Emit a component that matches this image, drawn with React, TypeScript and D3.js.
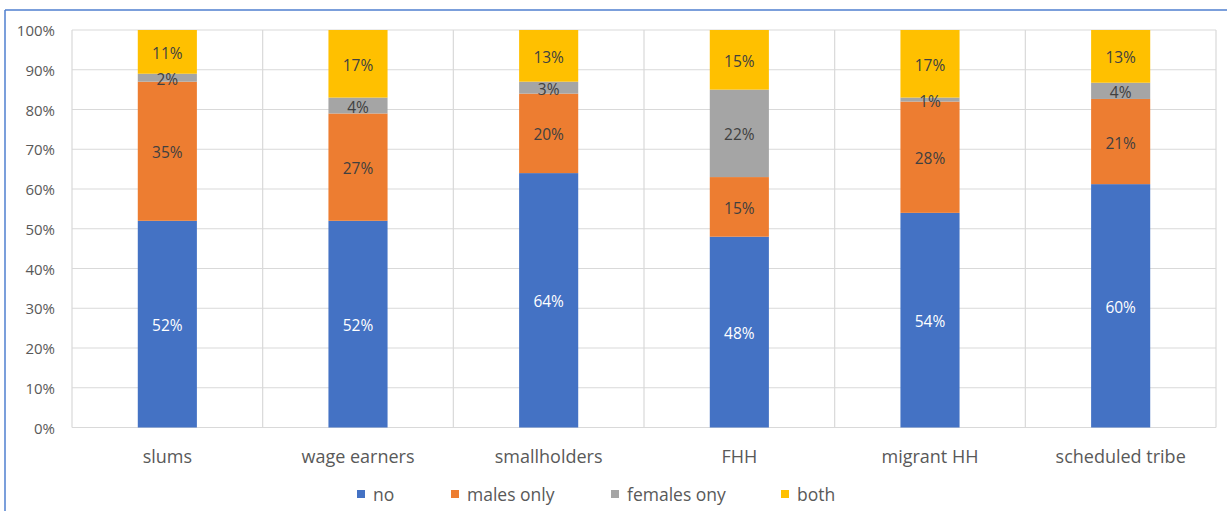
import React from "react";
import * as d3 from "d3";

const categories = ["slums", "wage earners", "smallholders", "FHH", "migrant HH", "scheduled tribe"];
const seriesNames = ["no", "males only", "females ony", "both"];
const noValues = [52, 52, 64, 48, 54, 60];
const malesOnly = [35, 27, 20, 15, 28, 21];
const femalesOnly = [2, 4, 3, 22, 1, 4];
const bothValues = [11, 17, 13, 15, 17, 13];
const yTicks = [0, 0.1, 0.2, 0.3, 0.4, 0.5, 0.6, 0.7, 0.8, 0.9, 1];

const colors = ["#4472C4", "#ED7D31", "#A5A5A5", "#FFC000"];
const labelColors = ["#ffffff", "#404040", "#404040", "#404040"];

const W = 1227;
const H = 511;
const left = 72;
const right = 1216;
const top = 30;
const bottom = 427.5;
const FONT = "'Open Sans', sans-serif";

export default function App() {
  const rows = categories.map((c, i) => ({
    cat: c,
    s0: noValues[i],
    s1: malesOnly[i],
    s2: femalesOnly[i],
    s3: bothValues[i],
  }));
  const keys = ["s0", "s1", "s2", "s3"];
  const stack = d3.stack<any>().keys(keys).offset(d3.stackOffsetExpand);
  const series = stack(rows);

  const x = d3.scaleBand().domain(categories).range([left, right]).padding(0);
  const y = d3.scaleLinear().domain([0, 1]).range([bottom, top]);
  const barW = x.bandwidth() * 0.31;
  const fmt = d3.format(".0%");

  const legendX = [357, 451, 611, 781];
  const legendY = 494;

  return (
    <svg width={W} height={H} style={{ position: "absolute", left: 0, top: 0, background: "#fff" }}>
      <rect x={0} y={0} width={W} height={H} fill="#fff" />
      {/* border */}
      <line x1={5} x2={W} y1={10} y2={10} stroke="#4F7FCF" strokeWidth={1.5} />
      <line x1={5} x2={5} y1={10} y2={H} stroke="#4F7FCF" strokeWidth={1.5} />

      {/* horizontal gridlines */}
      {yTicks.map((t) => (
        <line key={"h" + t} x1={left} x2={right} y1={y(t)} y2={y(t)} stroke="#D9D9D9" strokeWidth={1.2} />
      ))}
      {/* vertical gridlines */}
      {categories.map((c) => (
        <line key={"v" + c} x1={x(c)!} x2={x(c)!} y1={top} y2={bottom} stroke="#D9D9D9" strokeWidth={1.2} />
      ))}
      <line x1={right} x2={right} y1={top} y2={bottom} stroke="#D9D9D9" strokeWidth={1.2} />

      {/* y tick labels */}
      {yTicks.map((t) => (
        <text
          key={"yt" + t}
          x={55}
          y={y(t)}
          textAnchor="end"
          dominantBaseline="central"
          fontFamily={FONT}
          fontSize={15}
          fill="#595959"
        >
          {fmt(t)}
        </text>
      ))}

      {/* bars */}
      {series.map((s, si) => (
        <g key={"s" + si}>
          {s.map((d, i) => {
            const cx = x(categories[i])! + x.bandwidth() / 2;
            return (
              <rect
                key={i}
                x={cx - barW / 2}
                y={y(d[1])}
                width={barW}
                height={y(d[0]) - y(d[1])}
                fill={colors[si]}
              />
            );
          })}
        </g>
      ))}

      {/* data labels */}
      {series.map((s, si) => (
        <g key={"l" + si}>
          {s.map((d, i) => {
            const cx = x(categories[i])! + x.bandwidth() / 2;
            const raw = (rows[i] as any)[keys[si]];
            return (
              <text
                key={i}
                x={cx}
                y={(y(d[0]) + y(d[1])) / 2 + 1}
                textAnchor="middle"
                dominantBaseline="central"
                fontFamily={FONT}
                fontSize={15.5}
                fill={labelColors[si]}
              >
                {raw + "%"}
              </text>
            );
          })}
        </g>
      ))}

      {/* category labels */}
      {categories.map((c) => (
        <text
          key={"c" + c}
          x={x(c)! + x.bandwidth() / 2}
          y={456}
          textAnchor="middle"
          dominantBaseline="central"
          fontFamily={FONT}
          fontSize={18}
          fill="#595959"
        >
          {c}
        </text>
      ))}

      {/* legend */}
      {seriesNames.map((n, i) => (
        <g key={"lg" + n}>
          <rect x={legendX[i]} y={legendY - 4} width={8} height={8} fill={colors[i]} />
          <text
            x={legendX[i] + 16}
            y={legendY}
            dominantBaseline="central"
            fontFamily={FONT}
            fontSize={17.5}
            fill="#595959"
          >
            {n}
          </text>
        </g>
      ))}
    </svg>
  );
}
